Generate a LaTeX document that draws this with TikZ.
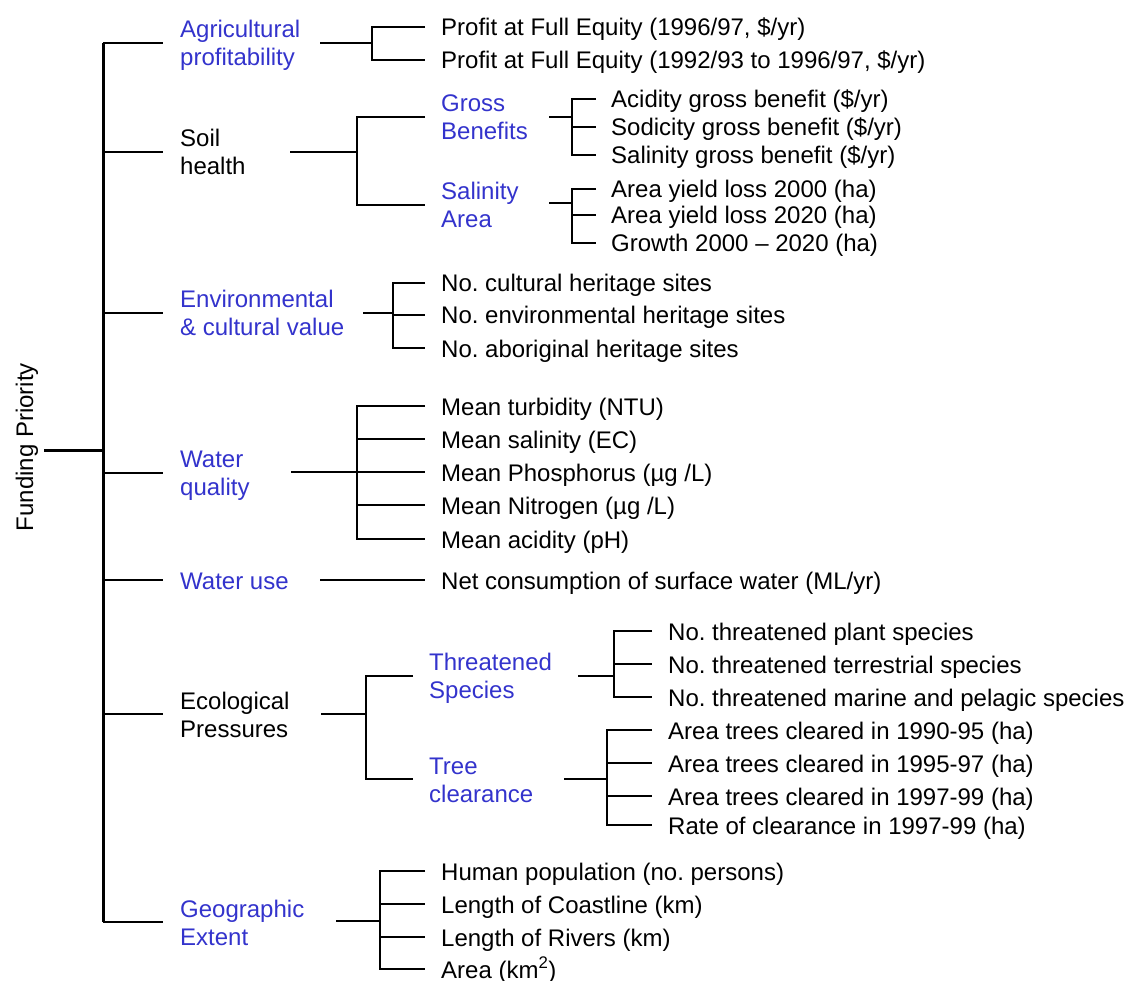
\documentclass[tikz,border=0pt]{standalone}
\usepackage{fontspec}
\setmainfont{Liberation Sans}
\definecolor{catblue}{RGB}{51,51,204}
\newcommand\lblfont{\fontsize{24}{28}\selectfont\frenchspacing}
\newcommand\st{\rule[-4pt]{0pt}{26pt}}
\begin{document}
\begin{tikzpicture}[x=1pt,y=-1pt,
  txt/.style={font=\lblfont,inner sep=0pt,anchor=west,align=left},
  leaf/.style={txt,text height=22pt,text depth=4pt},
  cat/.style={txt,text=catblue},
  plain/.style={txt,text=black},
  thin/.style={draw=black,line width=1.8pt,line join=miter},
  thickl/.style={draw=black,line width=2.8pt,line join=miter},
  trunkl/.style={draw=black,line width=3pt,line join=miter}]
\useasboundingbox (0,0) rectangle (1132,981);

% root
\node[font=\lblfont,inner sep=0pt,rotate=90,text height=22pt,text depth=4pt] (root) at (24,447) {Funding Priority};

% level 1
\node[cat]   (agr)  at (180,43)  {\st Agricultural\\\st profitability};
\node[plain] (soil) at (180,152) {\st Soil\\\st health};
\node[cat]   (env)  at (180,313) {\st Environmental\\\st \& cultural value};
\node[cat]   (wq)   at (180,473) {\st Water\\\st quality};
\node[cat,text height=22pt,text depth=4pt] (wu) at (180,580) {Water use};
\node[plain] (eco)  at (180,714) {\st Ecological\\\st Pressures};
\node[cat]   (geo)  at (180,922) {\st Geographic\\\st Extent};

% level 2
\node[cat] (gross)  at (441,117) {\st Gross\\\st Benefits};
\node[cat] (salin)  at (441,205) {\st Salinity\\\st Area};
\node[cat] (threat) at (429,676) {\st Threatened\\\st Species};
\node[cat] (tree)   at (429,779) {\st Tree\\\st clearance};

% leaves
\node[leaf] (p1) at (441,27) {Profit at Full Equity (1996/97, \$/yr)};
\node[leaf] (p2) at (441,60) {Profit at Full Equity (1992/93 to 1996/97, \$/yr)};
\node[leaf] (g1) at (611,99)  {Acidity gross benefit (\$/yr)};
\node[leaf] (g2) at (611,127) {Sodicity gross benefit (\$/yr)};
\node[leaf] (g3) at (611,155) {Salinity gross benefit (\$/yr)};
\node[leaf] (s1) at (611,189) {Area yield loss 2000 (ha)};
\node[leaf] (s2) at (611,215) {Area yield loss 2020 (ha)};
\node[leaf] (s3) at (611,243) {Growth 2000 – 2020 (ha)};
\node[leaf] (e1) at (441,283) {No. cultural heritage sites};
\node[leaf] (e2) at (441,315) {No. environmental heritage sites};
\node[leaf] (e3) at (441,348) {No. aboriginal heritage sites};
\node[leaf] (w1) at (441,406) {Mean turbidity (NTU)};
\node[leaf] (w2) at (441,439) {Mean salinity (EC)};
\node[leaf] (w3) at (441,472) {Mean Phosphorus (µg /L)};
\node[leaf] (w4) at (441,505) {Mean Nitrogen (µg /L)};
\node[leaf] (w5) at (441,539) {Mean acidity (pH)};
\node[leaf] (u1) at (441,580) {Net consumption of surface water (ML/yr)};
\node[leaf] (t1) at (668,631) {No. threatened plant species};
\node[leaf] (t2) at (668,664) {No. threatened terrestrial species};
\node[leaf] (t3) at (668,697) {No. threatened marine and pelagic species};
\node[leaf] (c1) at (668,730) {Area trees cleared in 1990-95 (ha)};
\node[leaf] (c2) at (668,763) {Area trees cleared in 1995-97 (ha)};
\node[leaf] (c3) at (668,796) {Area trees cleared in 1997-99 (ha)};
\node[leaf] (c4) at (668,825) {Rate of clearance in 1997-99 (ha)};
\node[leaf] (x1) at (441,871) {Human population (no. persons)};
\node[leaf] (x2) at (441,904) {Length of Coastline (km)};
\node[leaf] (x3) at (441,937) {Length of Rivers (km)};
\node[leaf] (x4) at (441,969) {Area (km\textsuperscript{2})};

% trunk
\coordinate (rootS) at (44,450);
\coordinate (T) at (103,450);
\draw[trunkl] (rootS) -- (T);
\draw[trunkl] (T |- agr.west) -- (T |- geo.west);
\foreach \n in {agr,soil,env,wq,wu,eco,geo}
  \draw[thin] (T |- \n.west) -- ([xshift=-17pt]\n.west);

% Agricultural profitability
\coordinate (agS) at (320,43); \coordinate (agB) at (372,43);
\draw[thickl] (agS) -- (agB);
\draw[thin] ([xshift=-16pt]p1.west) -| (agB) |- ([xshift=-16pt]p2.west);

% Soil health
\coordinate (soS) at (290,152); \coordinate (soB) at (357,152);
\draw[thin] (soS) -- (soB);
\draw[thin] ([xshift=-16pt]gross.west) -| (soB) |- ([xshift=-16pt]salin.west);

\coordinate (grS) at (549,117); \coordinate (grB) at (572,117);
\draw[thin] (grS) -- (grB);
\draw[thin] ([xshift=-15pt]g1.west) -| (grB) |- ([xshift=-15pt]g3.west);
\draw[thin] (grB |- g2.west) -- ([xshift=-15pt]g2.west);

\coordinate (saS) at (549,203); \coordinate (saB) at (572,203);
\draw[thickl] (saS) -- (saB);
\draw[thin] ([xshift=-15pt]s1.west) -| (saB) |- ([xshift=-15pt]s3.west);
\draw[thin] (saB |- s2.west) -- ([xshift=-15pt]s2.west);

% Environmental & cultural value
\coordinate (enS) at (363,313); \coordinate (enB) at (393,313);
\draw[thin] (enS) -- (enB);
\draw[thin] ([xshift=-16pt]e1.west) -| (enB) |- ([xshift=-16pt]e3.west);
\draw[thin] (enB |- e2.west) -- ([xshift=-16pt]e2.west);

% Water quality
\coordinate (wqS) at (291,472); \coordinate (wqB) at (357,472);
\draw[thin] (wqS) -- (wqB);
\draw[thin] ([xshift=-16pt]w1.west) -| (wqB) |- ([xshift=-16pt]w5.west);
\foreach \n in {w2,w3,w4}
  \draw[thin] (wqB |- \n.west) -- ([xshift=-16pt]\n.west);

% Water use
\coordinate (wuS) at (320,580);
\draw[thin] (wuS) -- ([xshift=-16pt]u1.west);

% Ecological pressures
\coordinate (ecS) at (321,714); \coordinate (ecB) at (366,714);
\draw[thickl] (ecS) -- (ecB);
\draw[thin] ([xshift=-16pt]threat.west) -| (ecB) |- ([xshift=-16pt]tree.west);

\coordinate (thS) at (578,676); \coordinate (thB) at (614,676);
\draw[thickl] (thS) -- (thB);
\draw[thin] ([xshift=-16pt]t1.west) -| (thB) |- ([xshift=-16pt]t3.west);
\draw[thin] (thB |- t2.west) -- ([xshift=-16pt]t2.west);

\coordinate (trS) at (564,779); \coordinate (trB) at (607,779);
\draw[thickl] (trS) -- (trB);
\draw[thin] ([xshift=-16pt]c1.west) -| (trB) |- ([xshift=-16pt]c4.west);
\foreach \n in {c2,c3}
  \draw[thin] (trB |- \n.west) -- ([xshift=-16pt]\n.west);

% Geographic extent
\coordinate (geS) at (336,921); \coordinate (geB) at (380,921);
\draw[thickl] (geS) -- (geB);
\draw[thin] ([xshift=-16pt]x1.west) -| (geB) |- ([xshift=-16pt]x4.west);
\foreach \n in {x2,x3}
  \draw[thin] (geB |- \n.west) -- ([xshift=-16pt]\n.west);
\end{tikzpicture}
\end{document}
